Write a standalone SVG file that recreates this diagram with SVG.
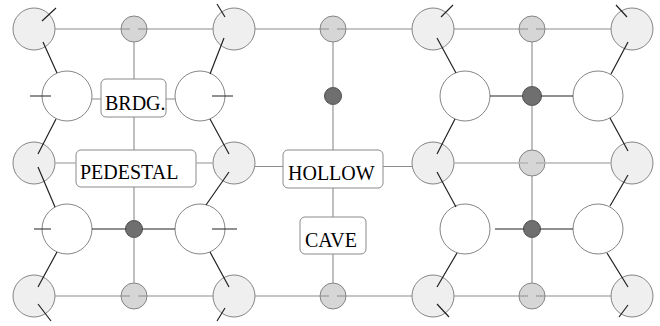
<svg xmlns="http://www.w3.org/2000/svg" width="660" height="326" viewBox="0 0 660 326">
<style>
.big{fill:#efefef;stroke:#858585;stroke-width:1}
.wht{fill:#ffffff;stroke:#858585;stroke-width:1}
.sml{fill:#d6d6d6;stroke:#858585;stroke-width:1}
.drk{fill:#6f6f6f;stroke:#4d4d4d;stroke-width:1}
.box{fill:#ffffff;stroke:#8a8a8a;stroke-width:1}
.lbl{font-family:"Liberation Serif","Times New Roman",serif;font-size:20px;fill:#000}
.g{stroke:#8c8c8c;stroke-width:1.1;fill:none}
.gl{stroke:#b5b5b5;stroke-width:1.3;fill:none}
.k{stroke:#222;stroke-width:1.2;fill:none}
</style>
<rect width="660" height="326" fill="#ffffff"/>
<g id="nodes">
<g id="n-tl"><circle class="big" cx="34" cy="29" r="21"/></g>
<g id="n-ts1"><circle class="sml" cx="134" cy="29" r="13"/></g>
<g id="n-tm"><circle class="big" cx="234" cy="29" r="21"/></g>
<g id="n-ts2"><circle class="sml" cx="333" cy="29" r="13"/></g>
<g id="n-tr1"><circle class="big" cx="433" cy="29" r="21"/></g>
<g id="n-ts3"><circle class="sml" cx="532" cy="29" r="13"/></g>
<g id="n-tr2"><circle class="big" cx="632" cy="29" r="21"/></g>

<g id="n-w1"><circle class="wht" cx="67" cy="96" r="25"/></g>
<g id="n-w2"><circle class="wht" cx="200" cy="96" r="25"/></g>
<g id="n-d-mid"><circle class="drk" cx="333" cy="96" r="8.5"/></g>
<g id="n-w3"><circle class="wht" cx="465" cy="96" r="25"/></g>
<g id="n-d-r1"><circle class="drk" cx="532" cy="96" r="9.5"/></g>
<g id="n-w4"><circle class="wht" cx="598" cy="96" r="25"/></g>

<g id="n-ml"><circle class="big" cx="34" cy="163" r="21"/></g>
<g id="n-mm"><circle class="big" cx="234" cy="163" r="21"/></g>
<g id="n-mr1"><circle class="big" cx="433" cy="163" r="21"/></g>
<g id="n-ms3"><circle class="sml" cx="532" cy="163" r="13"/></g>
<g id="n-mr2"><circle class="big" cx="632" cy="163" r="21"/></g>

<g id="n-w5"><circle class="wht" cx="67" cy="229" r="25"/></g>
<g id="n-d-l"><circle class="drk" cx="134" cy="229" r="8.5"/></g>
<g id="n-w6"><circle class="wht" cx="200" cy="229" r="25"/></g>
<g id="n-w7"><circle class="wht" cx="465" cy="229" r="25"/></g>
<g id="n-d-r2"><circle class="drk" cx="532" cy="229" r="8.5"/></g>
<g id="n-w8"><circle class="wht" cx="598" cy="229" r="25"/></g>

<g id="n-bl"><circle class="big" cx="34" cy="296" r="21"/></g>
<g id="n-bs1"><circle class="sml" cx="134" cy="296" r="13"/></g>
<g id="n-bm"><circle class="big" cx="234" cy="296" r="21"/></g>
<g id="n-bs2"><circle class="sml" cx="333" cy="296" r="13"/></g>
<g id="n-br1"><circle class="big" cx="433" cy="296" r="21"/></g>
<g id="n-bs3"><circle class="sml" cx="532" cy="296" r="13"/></g>
<g id="n-br2"><circle class="big" cx="632" cy="296" r="21"/></g>

<g id="brdg"><rect class="box" x="101" y="79" width="65" height="38" rx="5"/><text class="lbl" x="105" y="110">BRDG.</text></g>
<g id="pedestal"><rect class="box" x="76" y="150" width="120" height="37" rx="5"/><text class="lbl" x="80" y="179">PEDESTAL</text></g>
<g id="hollow"><rect class="box" x="283" y="150" width="100" height="38" rx="5"/><text class="lbl" x="288" y="180">HOLLOW</text></g>
<g id="cave"><rect class="box" x="300" y="217" width="66" height="37" rx="5"/><text class="lbl" x="305" y="247">CAVE</text></g>
</g>

<g id="connectors">
<!-- top row -->
<path class="g" d="M55 29H130M138 29H213M255 29H329M337 29H412M454 29H528M536 29H611"/>
<!-- bottom row -->
<path class="g" d="M55 296H130M138 296H213M255 296H329M337 296H412M454 296H528M536 296H611"/>
<!-- middle rows -->
<path class="gl" d="M55 163H76M196 163H213"/>
<path class="g" d="M255 166.5H283M383 166.5H412"/>
<path class="gl" d="M454 163H528M536 163H611"/>
<path class="g" d="M92 99H101M166 99H175"/>
<!-- verticals -->
<path class="g" d="M134 42V79M134 117V150M134 187V220.5M134 237.5V283"/>
<path class="g" d="M333 42V87.5M333 104.5V150M333 188V217M333 254V283"/>
<path class="g" d="M532 42V86.5M532 105.5V150M532 176V220.5M532 237.5V283"/>
<!-- black horizontals -->
<path class="k" d="M92 229H125.5M142.5 229H175"/>
<path class="k" d="M490 96H522.5M541.5 96H573"/>
<path class="k" d="M495 229H523.5M540.5 229H573"/>
<!-- ticks in white circles -->
<path class="k" d="M30 96H51M212 96H233M34 229H51M212 229H237"/>
<!-- diagonal connectors, left block -->
<path class="k" d="M42 21L56 8M43 42L57 73"/>
<path class="k" d="M217 4L225 17M224 38L210 74"/>
<path class="k" d="M38 154L56 119M38 167L55 207"/>
<path class="k" d="M229 154L210 119M229 172L206 205"/>
<path class="k" d="M38 287L57 252M38 304L51 321"/>
<path class="k" d="M229 287L210 252M225 308L217 321"/>
<!-- diagonal connectors, right block -->
<path class="k" d="M441 17L453 5M437 38L456 73"/>
<path class="k" d="M616 5L627 17M628 42L611 74"/>
<path class="k" d="M437 154L455 119M437 172L456 207"/>
<path class="k" d="M628 151L610 118M628 175L610 206"/>
<path class="k" d="M437 287L457 253M437 304L449 317"/>
<path class="k" d="M628 287L607 253M628 305L619 317"/>
</g>
</svg>
